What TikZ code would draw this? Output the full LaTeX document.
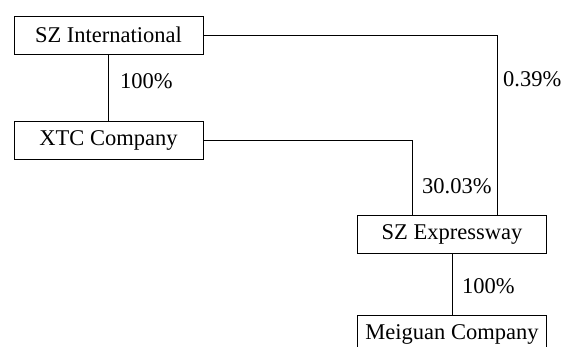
\documentclass[tikz,border=0pt]{standalone}
\usepackage{fontspec}
\setmainfont{Liberation Serif}
\begin{document}
\begin{tikzpicture}[x=1pt,y=-1pt,
  box/.style={draw,line width=0.9pt,minimum width=189pt,minimum height=38pt,inner sep=0pt,font=\fontsize{22.5}{27}\selectfont},
  lbl/.style={anchor=west,inner sep=0pt,font=\fontsize{22.5}{27}\selectfont},
  conn/.style={line width=0.9pt}]
\useasboundingbox (0,0) rectangle (565,347);
\clip (0,0) rectangle (565,347);
\node[box] (szi) at (108.5,35) {SZ International};
\node[box] (xtc) at (108.5,140.5) {XTC Company};
\node[box] (sze) at (452,234) {SZ Expressway};
\node[box] (mei) at (452,334) {Meiguan Company};
\coordinate (c1) at (497,35);
\coordinate (c2) at (412,140.5);
\draw[conn] (szi.east) -- (c1) -- (c1 |- sze.north);
\draw[conn] (xtc.east) -- (c2) -- (c2 |- sze.north);
\draw[conn] (szi.south -| 108,0) -- (xtc.north -| 108,0);
\draw[conn] (sze.south) -- (mei.north);
\node[lbl] (l1) at (120,81) {100\%};
\node[lbl] (l2) at (503,79) {0.39\%};
\node[lbl] (l3) at (422,186) {30.03\%};
\node[lbl] (l4) at (462,286) {100\%};
\end{tikzpicture}
\end{document}
